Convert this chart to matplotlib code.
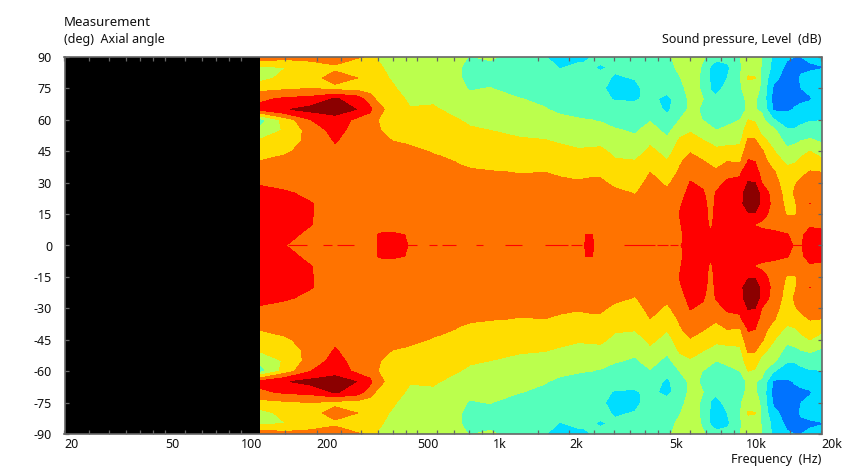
import numpy as np
import matplotlib
matplotlib.use("Agg")
import matplotlib.pyplot as plt
from matplotlib.ticker import FixedLocator, NullFormatter

plt.rcParams["axes.unicode_minus"] = False
plt.rcParams["font.family"] = ["Noto Sans", "DejaVu Sans"]

# measured columns, Hz
freqs = [120, 150, 190, 236, 290, 325, 343, 350, 397, 447, 468, 577, 616, 739, 810, 971, 1277,
         1605, 1840, 2170, 2290, 2325, 2477, 2510, 2650, 3040, 3650, 4190, 4890, 5500,
         6030, 6790, 7300, 7640, 8450, 9510, 10240, 10900, 11600, 12900, 14600,
         15700, 16600, 18000, 20000]

# angle of each value in a column (other half is the mirror image)
angles_half = [90, 85, 80, 75, 70, 65, 60, 55, 50, 45, 40, 35, 30, 25, 20, 15, 10, 5, 0]

# level in dB, one row per frequency
spl_half = [
    [-4, -9.5, -10, -7, -3.5, -2, -13, -11.3, -8.5, -7.5, -5.8, -4.8, -3.2, -2.5, -1.5, -1.5, -1.5, -1.5, -1.5],
    [-5, -9.05, -8, -6.5, -2.5, -0.2, -7.5, -8.5, -7.5, -6.3, -5.4, -4.6, -3.8, -2.7, -2, -2, -2.2, -2.4, -2.98],
    [-5, -7.5, -7.2, -6, -2, 1, -3, -4.5, -5, -5, -5, -4.6, -4.2, -3.6, -2.9, -2.9, -2.95, -3.6, -3.6],
    [-3.5, -6.8, -4.5, -7, 0.3, 1.5, -1.2, -2, -2.8, -3.6, -4.5, -4.5, -4.5, -4.4, -4.3, -4.2, -4.1, -4, -3.8],
    [-5.8, -7.5, -6, -7, -1.5, -0.1, -3.8, -4.3, -4.5, -4.6, -4.6, -4.5, -4.4, -4.3, -4.3, -4.2, -4.2, -4.2, -4],
    [-6.2, -7.2, -7.5, -7.5, -4.5, -2.3, -4.5, -4.6, -4.5, -4.5, -4.5, -4.4, -4.4, -4.3, -4.3, -4.2, -4.1, -4, -3.8],
    [-8.8, -8.2, -7.9, -7.5, -6.2, -4.5, -5.7, -5.7, -4.9, -4.6, -4.6, -4.5, -4.4, -4.3, -4.2, -4.1, -3.8, -3.8, -3.3],
    [-9.3, -8.5, -8, -7.5, -6.6, -5, -6, -5.9, -5, -4.7, -4.6, -4.5, -4.4, -4.3, -4.2, -4, -3.5, -2.9, -2.7],
    [-10, -10, -9.3, -8.5, -8, -7.3, -7, -6.5, -6, -5, -4.6, -4.4, -4.3, -4.2, -4.1, -4, -3.5, -2.8, -2.3],
    [-10.3, -10.5, -10.4, -10, -9, -8.5, -8, -7.2, -6.3, -5.3, -4.6, -4.5, -4.4, -4.3, -4.3, -4.2, -3.9, -3, -2.5],
    [-10.5, -10.8, -10.8, -10.4, -9.6, -8.8, -8.2, -7.3, -6.5, -5.4, -4.7, -4.5, -4.4, -4.4, -4.3, -4.2, -4.1, -3.8, -3.4],
    [-11.5, -12.05, -11.8, -11, -9.4, -8.7, -8, -7.5, -7, -6.2, -5.4, -5, -4.8, -4.7, -4.6, -4.5, -4.4, -4, -3.5],
    [-11.5, -11.4, -11.3, -10.9, -9.8, -9, -8.3, -7.7, -7.1, -6.4, -5.5, -5, -4.8, -4.7, -4.6, -4.5, -4.4, -4, -3.5],
    [-11.7, -11.9, -11.9, -11.6, -10.6, -9.7, -9, -8.5, -7.8, -7.2, -6.2, -5.5, -5, -4.9, -4.7, -4.5, -4.4, -4.1, -3.5],
    [-12.1, -12.7, -12.6, -12.2, -11.4, -10, -9.3, -8.8, -8, -7.5, -6.5, -5.7, -5.2, -5, -4.8, -4.6, -4.4, -4.1, -3.5],
    [-11.5, -13, -12.8, -11.9, -11, -10.3, -9.8, -9, -8.6, -8, -7.2, -5.8, -5.3, -5, -4.8, -4.6, -4.4, -4.1, -3.5],
    [-13.5, -14, -14, -13.4, -11.9, -11, -10.2, -9.4, -8.8, -8.2, -7, -6.1, -5.5, -5.2, -4.9, -4.7, -4.4, -4.1, -3.5],
    [-14.9, -14.3, -14, -13.5, -12.7, -11.8, -11, -9.8, -8.9, -8.1, -7, -6, -5.4, -5.1, -4.9, -4.7, -4.4, -4.2, -3.6],
    [-16, -15.1, -14.4, -14, -13.5, -12.7, -11.2, -10.4, -9.3, -8.3, -7.4, -6.4, -5.5, -5, -4.8, -4.6, -4.4, -4.2, -3.6],
    [-15.5, -14.6, -14.2, -14, -13.5, -12.9, -11.8, -10.9, -9.8, -8.7, -7.5, -6.6, -5.8, -5.4, -5, -4.7, -4.4, -4, -3.5],
    [-15.3, -14.7, -14.3, -14.1, -13.6, -12.9, -11.9, -10.9, -9.8, -8.7, -7.5, -6.5, -5.7, -5.4, -5, -4.7, -4.4, -3.8, -3.3],
    [-15.2, -14.7, -14.3, -14.2, -13.7, -13, -12, -11, -9.7, -8.6, -7.5, -6.5, -5.7, -5.3, -5, -4.7, -4.3, -2.97, -2.6],
    [-14.9, -14.8, -14.4, -14.2, -13.7, -13, -12, -11, -9.7, -8.6, -7.5, -6.4, -5.6, -5.3, -5, -4.7, -4.3, -2.97, -2.6],
    [-14.8, -14.9, -14.4, -14.3, -13.8, -13, -12.1, -11, -9.7, -8.6, -7.5, -6.4, -5.6, -5.3, -5, -4.7, -4.4, -3.7, -3.3],
    [-14.5, -15.2, -14.5, -14.5, -14, -13, -12.2, -11, -9.6, -8.5, -7.5, -6.4, -5.6, -5.3, -5, -4.7, -4.4, -4.2, -3.6],
    [-14.4, -14.7, -15.2, -16, -15.3, -13.5, -12.8, -11.8, -10.9, -9.6, -8.7, -7.6, -6.5, -5.5, -5.2, -4.8, -4.5, -4.2, -3.6],
    [-14.2, -14.5, -14.9, -15.4, -15.3, -14, -13.3, -12.3, -11.5, -10.2, -8.8, -7.8, -7, -6.1, -5.5, -5, -4.6, -4.2, -3.6],
    [-14, -14, -14, -14.3, -14.3, -13.5, -12.2, -11, -9.5, -8.4, -7.2, -6, -5.2, -5, -4.8, -4.5, -4.2, -4, -3.6],
    [-13, -13.5, -13.7, -14, -15.8, -15.6, -14, -12.8, -11.4, -10, -8.8, -7.8, -6.5, -5.4, -4.8, -4.2, -3.8, -3.5, -3.5],
    [-10, -11, -12.1, -13, -13.5, -13, -11.9, -10.2, -8.5, -7.6, -6.3, -5.5, -4.5, -3.8, -3.2, -2.9, -3.1, -3.3, -3.2],
    [-9.5, -10, -10.3, -10.7, -11.4, -11.6, -11, -9.3, -7.8, -6.2, -4.9, -3.8, -2.9, -2.3, -2, -2, -2, -2.2, -2],
    [-11.7, -12.5, -12.7, -12.5, -12, -12.2, -12.1, -10.5, -8.9, -7.4, -5.8, -4.5, -3.4, -2.8, -2.4, -2.3, -2.5, -2.6, -2],
    [-12.8, -15.5, -15.5, -15.2, -14.2, -13.3, -13, -11.4, -9.6, -7.8, -6.6, -5.1, -4.3, -4, -3.8, -3.5, -3.3, -2.7, -1.5],
    [-14, -16.5, -16.3, -15.8, -14.5, -14, -13.3, -12, -10.2, -8.3, -7, -5.5, -4, -2.8, -2.5, -2.5, -2.2, -1.5, -1],
    [-14, -15.6, -15, -14.2, -14, -13.8, -12.8, -11.4, -10, -7.9, -6, -4, -2.5, -2, -2, -2.5, -2.8, -1.5, -1],
    [-12.1, -12.4, -12.1, -12.5, -13, -13, -12, -10.5, -9.6, -8, -6.3, -3.3, -2.6, -1, -0.8, -1.8, -2.9, -2, -1],
    [-10.5, -9.8, -8.8, -10, -11.3, -11.6, -9, -7.4, -5.5, -3.8, -2.8, -1.6, 0.2, 1.5, 1.5, -0.3, -3.1, -2.1, -1],
    [-10.5, -9.9, -8.9, -10.2, -11.7, -11.9, -9.3, -7.8, -5.6, -4.4, -3, -2, 0, 1.2, 1.2, -0.2, -3.1, -2.2, -1.2],
    [-12, -12.3, -12.6, -12.8, -13, -12.4, -11.2, -9.8, -8.2, -5.6, -4.8, -3.8, -3, -0.8, -0.6, -2.4, -3.3, -2.5, -1.5],
    [-15.6, -16, -17.2, -18.5, -19, -18.5, -14.8, -11.3, -10, -8.8, -7.3, -5.7, -5, -4.5, -4, -3.6, -3.4, -2.7, -2],
    [-17.5, -18.8, -19.2, -19.5, -19.3, -18.5, -16.5, -14.7, -13, -11.2, -9.7, -8, -7.5, -7, -6.8, -6.3, -4.5, -2.8, -2],
    [-18, -18.8, -19, -19, -18.6, -17.8, -16.2, -14.7, -12.6, -10.8, -9.2, -7.6, -6.2, -5.7, -6.3, -6.2, -4.3, -3.8, -3.4],
    [-18, -18.8, -17.5, -18, -18.5, -17.3, -15.7, -14.2, -12, -9.9, -8.3, -6.7, -5.5, -5, -4.6, -5, -3.8, -3.2, -3.1],
    [-17, -18.8, -16.5, -17.3, -18.3, -16.7, -15.2, -13.8, -11.5, -9, -7.5, -5.8, -5, -4.5, -2.98, -4, -3.2, -2.5, -2],
    [-16.7, -18.2, -16.5, -16.3, -16, -15.5, -15.1, -14, -12.4, -10.2, -8.3, -6, -5.2, -4.8, -4.5, -4.3, -3.3, -2.6, -2],
]

# thin on-axis runs above the -3 dB line, Hz
axis_run_start = [154, 212, 240, 456, 557, 627, 855, 1114, 1605, 2035, 3300, 4460, 5024, 5500, 15017]
axis_run_end = [183, 230, 281, 499, 599, 712, 912, 1301, 1980, 2250, 4380, 4930, 5404, 5918, 16756]

band_edges = [-21, -18, -15, -12, -9, -6, -3, 0, 3]
band_colors = ["#0073FF", "#00DDFF", "#55FFBB", "#BBFF4D", "#FFDD00", "#FF7300", "#FF0000", "#8B0000"]

x_ticks = [20, 50, 100, 200, 500, 1000, 2000, 5000, 10000, 20000]
x_labels = ["20", "50", "100", "200", "500", "1k", "2k", "5k", "10k", "20k"]
x_minor = [25, 30, 35, 40, 45, 60, 70, 80, 90, 150, 250, 300, 350, 400, 450, 600, 700, 800, 900,
           1500, 2500, 3000, 3500, 4000, 4500, 6000, 7000, 8000, 9000, 15000]
y_ticks = list(range(-90, 91, 15))

half = np.array(spl_half)
# angles -90..90, lower half is the mirror of the upper
z = np.hstack([half, half[:, -2::-1]]).T
angles = np.array([-a for a in angles_half] + angles_half[-2::-1])

W, H = 848, 469
fig = plt.figure(figsize=(W / 100, H / 100), dpi=100, facecolor="white")
ax = fig.add_axes([64.5 / W, 1 - 434 / H, 757 / W, 377 / H], facecolor="black")

ax.contourf(freqs, angles, z, levels=band_edges, colors=band_colors, antialiased=False)
ax.hlines([0] * len(axis_run_start), axis_run_start, axis_run_end, color="#FF0000", lw=0.8)

ax.set_xscale("log")
ax.set_xlim(20, 20000)
ax.set_ylim(-90, 90)

gray = "#666666"
for s in ax.spines.values():
    s.set_color(gray)
    s.set_linewidth(1.2)

ax.xaxis.set_major_locator(FixedLocator(x_ticks))
ax.xaxis.set_minor_locator(FixedLocator(x_minor))
ax.xaxis.set_minor_formatter(NullFormatter())
ax.set_xticklabels(x_labels)
ax.set_yticks(y_ticks)
ax.tick_params(axis="both", which="both", direction="in", top=True, right=True,
               color=gray, length=3, width=0.9, labelsize=9, labelcolor="#111111")
ax.tick_params(axis="x", pad=3)
ax.tick_params(axis="y", pad=9)
for lab in ax.get_xticklabels():
    lab.set_ha("left")

fig.text(64 / W, 1 - 22 / H, "Measurement", fontsize=9.5, va="center", ha="left", color="#111111")
fig.text(64 / W, 1 - 40 / H, "(deg)  Axial angle", fontsize=9, va="center", ha="left", color="#111111")
fig.text(821 / W, 1 - 40 / H, "Sound pressure, Level  (dB)", fontsize=9, va="center", ha="right", color="#111111")
fig.text(821 / W, 1 - 459 / H, "Frequency  (Hz)", fontsize=9, va="center", ha="right", color="#111111")

fig.savefig("out.png", dpi=100)
